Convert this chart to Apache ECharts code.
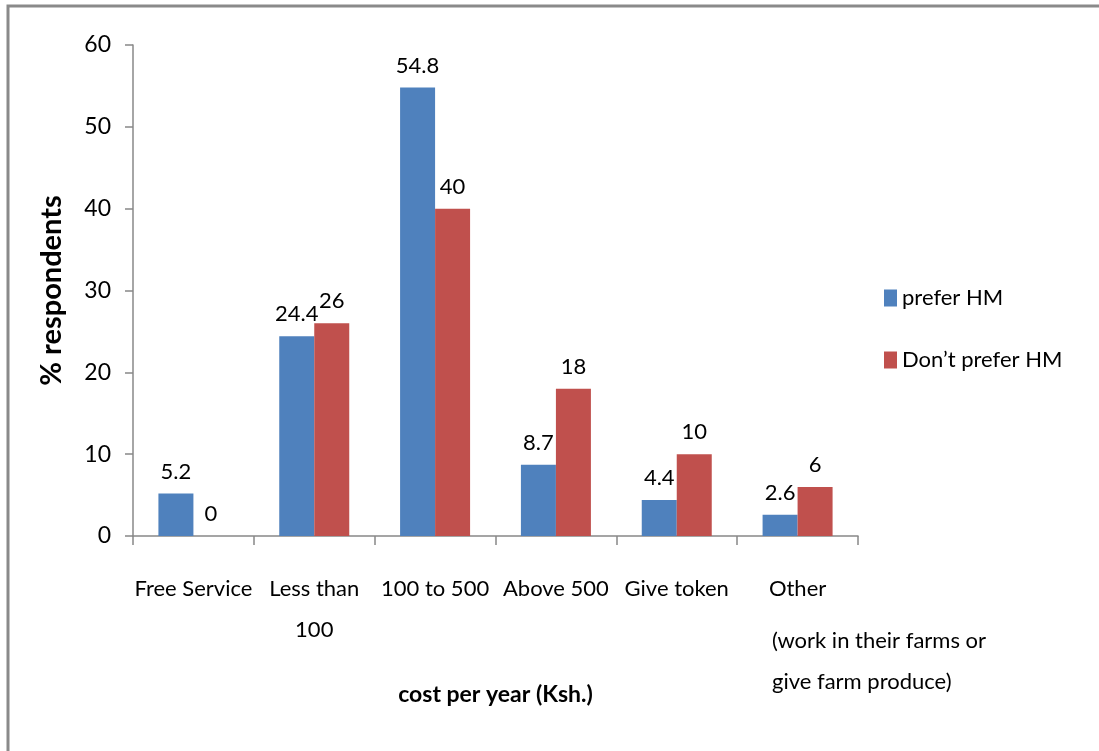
<!DOCTYPE html>
<html>
<head>
<meta charset="utf-8">
<script src="https://cdn.jsdelivr.net/npm/echarts@6/dist/echarts.min.js"></script>
<style>
  html, body { margin: 0; padding: 0; background: #fff; }
  #chart { width: 1099px; height: 751px; }
</style>
</head>
<body>
<div id="chart"></div>
<script>
    var categories = ['Free Service', 'Less than\n100', '100 to 500', 'Above 500', 'Give token', 'Other'];
    var preferHM = [5.2, 24.4, 54.8, 8.7, 4.4, 2.6];
    var dontPreferHM = [0, 26, 40, 18, 10, 6];
    var yTicks = { min: 0, max: 60, interval: 10 };
    var otherNote = '(work in their farms or\ngive farm produce)';

    var font = 'Lato, "Liberation Sans", sans-serif';
    var dom = document.getElementById('chart');
    var myChart = echarts.init(dom, null, { renderer: 'canvas' });

    var barLabel = {
        show: true,
        position: 'top',
        distance: 11,
        color: '#000',
        fontFamily: font,
        fontSize: 22
    };

    var option = {
        animation: false,
        backgroundColor: '#fff',
        grid: { left: 133, right: 241, top: 45, bottom: 215 },
        legend: {
            orient: 'vertical',
            left: 879,
            top: 282,
            itemWidth: 13,
            itemHeight: 17,
            itemGap: 40,
            icon: 'rect',
            textStyle: { fontFamily: font, fontSize: 22, color: '#000' },
            data: ['prefer HM', 'Don\u2019t prefer HM']
        },
        xAxis: {
            type: 'category',
            data: categories,
            name: 'cost per year (Ksh.)',
            nameLocation: 'middle',
            nameGap: 147,
            nameTextStyle: { fontFamily: font, fontSize: 23, fontWeight: 'bold', color: '#000' },
            axisLine: { lineStyle: { color: '#888', width: 1.5 } },
            axisTick: { show: true, length: 9, lineStyle: { color: '#888', width: 1.5 } },
            axisLabel: {
                interval: 0,
                margin: 32,
                lineHeight: 41,
                fontFamily: font,
                fontSize: 22,
                color: '#000'
            }
        },
        yAxis: {
            type: 'value',
            min: yTicks.min,
            max: yTicks.max,
            interval: yTicks.interval,
            name: '% respondents',
            nameLocation: 'middle',
            nameGap: 67,
            nameTextStyle: { fontFamily: font, fontSize: 29, fontWeight: 'bold', color: '#000' },
            splitLine: { show: false },
            axisLine: { show: true, lineStyle: { color: '#888', width: 1.5 } },
            axisTick: { show: true, length: 8, lineStyle: { color: '#888', width: 1.5 } },
            axisLabel: { margin: 22, fontFamily: font, fontSize: 23, color: '#000' }
        },
        series: [
            {
                name: 'prefer HM',
                type: 'bar',
                data: preferHM,
                barWidth: 35,
                barGap: '0%',
                itemStyle: { color: '#4F81BD' },
                label: barLabel
            },
            {
                name: 'Don\u2019t prefer HM',
                type: 'bar',
                data: dontPreferHM,
                barWidth: 35,
                itemStyle: { color: '#C0504D' },
                label: barLabel
            }
        ],
        graphic: [
            { type: 'rect', shape: { x: 8, y: 6, width: 1100, height: 760 }, style: { fill: 'none', stroke: '#8a8a8a', lineWidth: 3 } },
            { type: 'text', left: 772, top: 620, style: { text: otherNote, font: '22px ' + font, lineHeight: 41, fill: '#000' } }
        ]
    };

    option && myChart.setOption(option);
</script>
</body>
</html>
